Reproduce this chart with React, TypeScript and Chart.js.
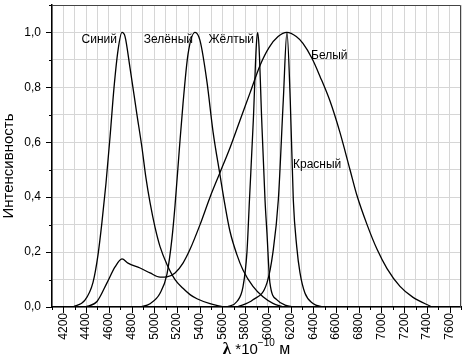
import React, { useEffect, useRef } from 'react';
import { Chart, registerables } from 'chart.js';

Chart.register(...registerables);

// ---------- data (wavelength in 10^-10 m, relative intensity) ----------
const blueWave = [4285, 4390, 4461, 4505, 4540, 4575, 4611, 4646, 4681, 4716, 4743, 4787, 4848, 4892, 4927, 4963, 5007, 5051, 5112, 5183, 5253, 5315, 5376, 5491, 5605];
const blueInt = [0, 0.025, 0.09, 0.19, 0.31, 0.45, 0.62, 0.8, 0.935, 1.0, 0.985, 0.87, 0.70, 0.58, 0.47, 0.38, 0.29, 0.22, 0.155, 0.10, 0.068, 0.045, 0.03, 0.012, 0];

const whiteWave = [4390, 4496, 4584, 4655, 4716, 4769, 4875, 4963, 5051, 5112, 5183, 5253, 5315, 5403, 5491, 5579, 5667, 5755, 5843, 5931, 6010, 6090, 6168, 6250, 6309, 6389, 6459, 6547, 6635, 6723, 6785, 6873, 6961, 7049, 7163, 7278, 7445];
const whiteInt = [0, 0.02, 0.088, 0.146, 0.175, 0.16, 0.142, 0.124, 0.109, 0.11, 0.124, 0.16, 0.21, 0.30, 0.40, 0.49, 0.58, 0.68, 0.78, 0.88, 0.945, 0.985, 1.0, 0.985, 0.96, 0.905, 0.84, 0.75, 0.635, 0.50, 0.405, 0.30, 0.21, 0.14, 0.075, 0.035, 0];

const greenWave = [4875, 4963, 5051, 5112, 5156, 5183, 5220, 5253, 5297, 5359, 5403, 5464, 5517, 5579, 5623, 5667, 5728, 5781, 5869, 5957, 6045, 6133];
const greenInt = [0, 0.012, 0.05, 0.12, 0.25, 0.37, 0.57, 0.74, 0.92, 1.0, 0.97, 0.82, 0.64, 0.48, 0.37, 0.275, 0.19, 0.135, 0.075, 0.037, 0.013, 0];

const yellowWave = [5640, 5728, 5781, 5816, 5838, 5872, 5898, 5910, 5922, 5946, 5975, 5992, 6018, 6080, 6151, 6240];
const yellowInt = [0, 0.02, 0.073, 0.2, 0.39, 0.68, 0.95, 1.0, 0.95, 0.68, 0.39, 0.27, 0.088, 0.026, 0.007, 0];

const redWave = [5728, 5869, 5992, 6045, 6092, 6136, 6168, 6197, 6224, 6254, 6283, 6327, 6397, 6485];
const redInt = [0, 0.026, 0.088, 0.2, 0.39, 0.755, 1.0, 0.755, 0.39, 0.22, 0.124, 0.05, 0.013, 0];

const seriesNames = ['Синий', 'Белый', 'Зелёный', 'Жёлтый', 'Красный'];

// curve labels, anchored in data space
const labelTexts = ['Синий', 'Зелёный', 'Жёлтый', 'Белый', 'Красный'];
const labelWave = [4672, 5341, 5878, 6380, 6221];
const labelInt = [0.974, 0.974, 0.974, 0.916, 0.518];
const labelSide = ['right', 'right', 'right', 'left', 'left'];

const xMin = 4100;
const xMax = 7700;
const xStep = 100;
const yMin = 0;
const yMax = 1.1;
const yStep = 0.1;

const yTitle = 'Интенсивность';

const toPoints = (xs: number[], ys: number[]) => xs.map((x, i) => ({ x, y: ys[i] }));

const extrasPlugin = {
  id: 'extras',
  beforeDatasetsDraw(chart: any) {
    const { ctx, chartArea } = chart;
    const { left, right, top, bottom } = chartArea;
    ctx.save();
    ctx.strokeStyle = '#444';
    ctx.lineWidth = 1;
    ctx.beginPath();
    ctx.moveTo(left, top + 0.5);
    ctx.lineTo(right - 0.5, top + 0.5);
    ctx.lineTo(right - 0.5, bottom);
    ctx.stroke();
    ctx.restore();
  },
  afterDraw(chart: any) {
    const { ctx, chartArea, scales } = chart;
    const { left, bottom } = chartArea;
    const xs = scales.x;
    const ys = scales.y;
    ctx.save();
    ctx.strokeStyle = '#000';
    ctx.lineWidth = 1;
    ctx.beginPath();
    for (let v = xMin; v <= xMax; v += xStep) {
      const px = Math.round(xs.getPixelForValue(v)) + 0.5;
      const len = v % 200 === 0 ? 6 : 3;
      ctx.moveTo(px, bottom);
      ctx.lineTo(px, bottom + len);
    }
    const n = Math.round((yMax - yMin) / yStep);
    for (let i = 0; i <= n; i++) {
      const v = yMin + i * yStep;
      const py = Math.round(ys.getPixelForValue(v)) + 0.5;
      const len = i % 2 === 0 ? 6 : 3;
      ctx.moveTo(left - len, py);
      ctx.lineTo(left, py);
    }
    ctx.stroke();

    // curve labels
    ctx.fillStyle = '#000';
    ctx.font = "12px 'Liberation Sans', Arial, sans-serif";
    ctx.textBaseline = 'middle';
    labelTexts.forEach((t, i) => {
      ctx.textAlign = labelSide[i] as CanvasTextAlign;
      ctx.fillText(t, xs.getPixelForValue(labelWave[i]), ys.getPixelForValue(labelInt[i]));
    });

    // y title
    ctx.save();
    ctx.font = "15px 'Liberation Sans', Arial, sans-serif";
    ctx.textAlign = 'center';
    ctx.textBaseline = 'middle';
    ctx.translate(9, (chartArea.top + chartArea.bottom) / 2 + 10);
    ctx.rotate(-Math.PI / 2);
    ctx.fillText(yTitle, 0, 0);
    ctx.restore();

    // x title with superscript
    const cx = (chartArea.left + chartArea.right) / 2;
    const base = 354;
    const parts = [
      { t: 'λ', f: "bold 17px 'Liberation Serif', serif", dy: 0 },
      { t: ' *10', f: "15px 'Liberation Sans', Arial, sans-serif", dy: 0 },
      { t: '−10', f: "10px 'Liberation Sans', Arial, sans-serif", dy: -8 },
      { t: ' м', f: "16px 'Liberation Sans', Arial, sans-serif", dy: 0 },
    ];
    let total = 0;
    parts.forEach((p) => {
      ctx.font = p.f;
      total += ctx.measureText(p.t).width;
    });
    let px = cx - total / 2;
    ctx.textAlign = 'left';
    ctx.textBaseline = 'alphabetic';
    parts.forEach((p) => {
      ctx.font = p.f;
      ctx.fillText(p.t, px, base + p.dy);
      px += ctx.measureText(p.t).width;
    });
    ctx.restore();
  },
};

export default function App() {
  const ref = useRef<HTMLCanvasElement | null>(null);

  useEffect(() => {
    if (!ref.current) return;
    Chart.defaults.font.family = "'Liberation Sans', Arial, sans-serif";
    Chart.defaults.font.size = 12;
    Chart.defaults.color = '#000';

    const ds = (label: string, xs: number[], ys: number[]) => ({
      label,
      data: toPoints(xs, ys),
      borderColor: '#000',
      borderWidth: 1.3,
      pointRadius: 0,
      fill: false,
      cubicInterpolationMode: 'monotone' as const,
    });

    const chart = new Chart(ref.current, {
      type: 'line',
      data: {
        datasets: [
          ds(seriesNames[0], blueWave, blueInt),
          ds(seriesNames[1], whiteWave, whiteInt),
          ds(seriesNames[2], greenWave, greenInt),
          ds(seriesNames[3], yellowWave, yellowInt),
          ds(seriesNames[4], redWave, redInt),
        ],
      },
      options: {
        responsive: false,
        animation: false,
        devicePixelRatio: 1,
        layout: { padding: { left: 0, right: 3, top: 5, bottom: 0 } },
        plugins: {
          legend: { display: false },
          tooltip: { enabled: false },
          title: { display: false },
        },
        scales: {
          x: {
            type: 'linear',
            min: xMin,
            max: xMax,
            grid: { color: '#d6d6d6', lineWidth: 1, drawTicks: false },
            border: { display: true, color: '#000', width: 1.5 },
            ticks: {
              stepSize: xStep,
              autoSkip: false,
              minRotation: 90,
              maxRotation: 90,
              padding: 6,
              color: '#000',
              font: { size: 12 },
              callback: (v: any) => (Number(v) % 200 === 0 && v > xMin && v < xMax ? String(v) : ''),
            },
            afterFit: (s: any) => {
              s.height = 54;
              s.paddingLeft = 0;
              s.paddingRight = 0;
            },
          },
          y: {
            type: 'linear',
            min: yMin,
            max: yMax,
            grid: { color: '#d6d6d6', lineWidth: 1, drawTicks: false },
            border: { display: true, color: '#000', width: 1.5 },
            ticks: {
              stepSize: yStep,
              autoSkip: false,
              padding: 11,
              color: '#000',
              font: { size: 12 },
              callback: (v: any) => {
                const k = Math.round(Number(v) * 10);
                if (k % 2 !== 0 || k > 10) return '';
                return (k / 10).toFixed(1).replace('.', ',');
              },
            },
            afterFit: (s: any) => {
              s.width = 52;
              s.paddingTop = 0;
              s.paddingBottom = 0;
            },
          },
        },
      },
      plugins: [extrasPlugin],
    });
    return () => chart.destroy();
  }, []);

  return (
    <div style={{ position: 'absolute', left: 0, top: 0, width: 464, height: 361, background: '#fff' }}>
      <canvas ref={ref} width={464} height={361} style={{ display: 'block' }} />
    </div>
  );
}
